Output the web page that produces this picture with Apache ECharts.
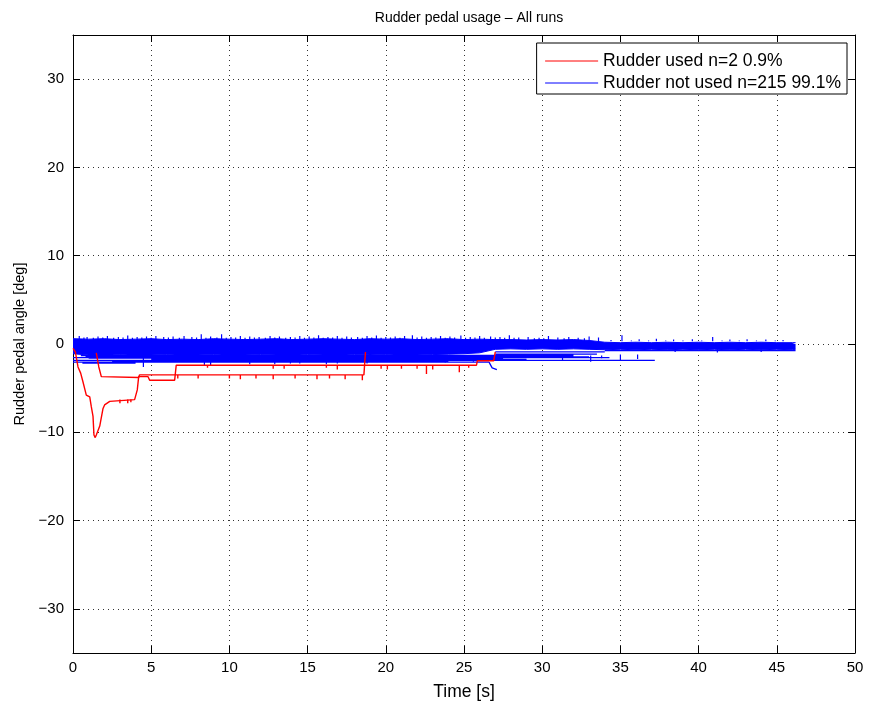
<!DOCTYPE html>
<html>
<head>
<meta charset="utf-8">
<script src="https://cdn.jsdelivr.net/npm/echarts@6/dist/echarts.min.js"></script>
<style>
  html, body { margin: 0; padding: 0; background: #fff; }
  #chart { width: 869px; height: 702px; }
</style>
</head>
<body>
<div id="chart"></div>
<script>
const redName = "Rudder used n=2 0.9%";
const blueName = "Rudder not used n=215 99.1%";

// x ticks (time, s) and y ticks (deg)
const xTicks = [0, 5, 10, 15, 20, 25, 30, 35, 40, 45, 50];
const yTicks = [-30, -20, -10, 0, 10, 20, 30];

// red run 1: deep excursion at the start
const redRunA = [
  [0.0, -0.5], [0.15, -0.9], [0.32, -2.6], [0.49, -3.3], [0.64, -4.3], [0.85, -5.8],
  [1.07, -6.0], [1.17, -7.1], [1.28, -8.2], [1.34, -10.3], [1.42, -10.6], [1.49, -10.3],
  [1.6, -9.8], [1.71, -9.3], [1.92, -7.3], [2.02, -6.9], [2.35, -6.5], [2.45, -6.3],
  [3.94, -6.3], [4.11, -5.2], [4.2, -3.7], [4.8, -3.7], [4.9, -4.1], [6.5, -4.1],
  [6.6, -2.4], [25.8, -2.4], [25.85, -1.9], [26.9, -1.9], [27.0, -0.9]
];
// red run 2
const redRunB = [
  [1.49, -1.0], [1.65, -2.6], [1.81, -3.7], [1.9, -3.8], [4.2, -3.8], [4.25, -3.5],
  [18.6, -3.5], [18.7, -0.9]
];
// red short drops: [time, from, to]
const redSpikes = [
  [3.0, -6.3, -6.7], [3.5, -6.3, -6.7], [3.7, -6.3, -6.6], [6.7, -3.5, -3.9], [8.0, -3.5, -3.9],
  [8.6, -2.4, -2.7], [10.0, -3.5, -3.9], [10.7, -3.5, -4.0], [11.7, -3.5, -3.9],
  [12.8, -3.5, -4.0], [12.8, -2.4, -2.8], [13.5, -2.4, -2.8], [14.2, -3.5, -3.9],
  [15.6, -3.5, -4.0], [16.2, -2.4, -2.7], [16.4, -3.5, -3.9], [16.9, -2.4, -2.9],
  [17.4, -3.5, -4.0], [18.5, -3.5, -4.1], [19.7, -2.4, -2.8], [20.1, -2.4, -2.9],
  [21.0, -2.4, -2.8], [22.0, -2.4, -2.8], [22.6, -2.4, -3.4], [23.0, -2.4, -2.9],
  [24.7, -2.4, -3.2], [25.3, -2.4, -2.7]
];

// blue band envelope (many overlapping runs)
const bandTime = [
  0, 1, 2, 3, 4, 5, 6, 7, 8, 9, 10, 11, 12, 13, 14, 15, 16, 17, 18, 19, 20, 21, 22, 23,
  24, 25, 26, 27, 28, 29, 30, 31, 32, 33, 34, 35, 36, 37, 38, 39, 40, 41, 42, 43, 44, 45, 46, 46.2
];
const bandUpper = [
  0.6, 0.55, 0.6, 0.5, 0.55, 0.6, 0.5, 0.55, 0.5, 0.6, 0.55, 0.5, 0.55, 0.6, 0.5, 0.55,
  0.6, 0.55, 0.5, 0.6, 0.55, 0.6, 0.5, 0.55, 0.6, 0.5, 0.55, 0.5, 0.5, 0.45, 0.5, 0.45,
  0.5, 0.4, 0.2, 0.15, 0.2, 0.15, 0.2, 0.15, 0.2, 0.15, 0.2, 0.15, 0.2, 0.15, 0.15, 0.15
];
const bandLower = [
  -1.1, -1.25, -1.3, -1.2, -1.3, -1.25, -1.2, -1.3, -1.25, -1.2, -1.3, -1.25, -1.2, -1.25,
  -1.3, -1.2, -1.25, -1.3, -1.2, -1.25, -1.2, -1.3, -1.25, -1.2, -1.15, -1.1, -1.0,
  -0.6, -0.55, -0.6, -0.55, -0.6, -0.55, -0.6,
  -0.65, -0.6, -0.65, -0.6, -0.65, -0.6, -0.65, -0.6, -0.65, -0.6, -0.65, -0.6, -0.65, -0.6
];
// blue upward peaks: [time, peak]
const blueUpPeaks = [
  [0.4, 0.9], [0.7, 0.75], [0.9, 0.8], [1.3, 0.7], [1.6, 0.85], [1.9, 0.75], [2.2, 0.9],
  [2.6, 0.7], [2.9, 0.8], [3.2, 0.75], [3.5, 0.95], [3.8, 0.7], [4.1, 0.8], [4.4, 0.75],
  [4.7, 0.85], [5.0, 0.7], [5.3, 0.9], [5.8, 0.8], [6.1, 0.75], [6.4, 0.85], [6.8, 0.7],
  [7.1, 0.9], [7.6, 0.8], [7.9, 0.75], [8.2, 1.1], [8.5, 0.7], [8.8, 0.85], [9.2, 0.75],
  [9.5, 1.1], [9.8, 0.7], [10.1, 0.8], [10.4, 0.75], [10.7, 0.9], [11.0, 0.7], [11.3, 0.85],
  [11.6, 0.75], [11.9, 0.8], [12.3, 0.7], [12.6, 0.9], [12.9, 0.75], [13.2, 0.85], [13.6, 0.7],
  [13.9, 0.8], [14.2, 0.75], [14.5, 0.9], [14.8, 0.7], [15.1, 0.85], [15.4, 0.75], [15.7, 1.0],
  [16.0, 0.7], [16.3, 0.8], [16.6, 0.75], [16.9, 0.9], [17.2, 0.7], [17.5, 0.85], [17.8, 0.75],
  [18.2, 0.8], [18.5, 0.7], [18.8, 0.9], [19.1, 0.75], [19.4, 0.95], [19.7, 0.7], [20.0, 0.8],
  [20.3, 0.75], [20.6, 0.85], [20.9, 0.7], [21.2, 0.9], [21.7, 1.0], [22.0, 0.75], [22.3, 0.85],
  [22.6, 0.7], [22.9, 0.8], [23.2, 0.75], [23.5, 0.9], [23.8, 0.7], [24.1, 0.85], [24.4, 0.75],
  [24.8, 0.95], [25.1, 0.7], [25.4, 0.8], [25.7, 0.75], [26.0, 0.9], [26.3, 0.7], [26.7, 0.85],
  [27.0, 0.75], [27.3, 0.8], [27.6, 0.7], [27.9, 1.0], [28.2, 0.7], [28.5, 0.75], [29.1, 0.8],
  [29.5, 0.65], [29.8, 0.7], [30.1, 0.65], [30.4, 0.9], [31.0, 0.75], [31.4, 0.65], [31.7, 0.8],
  [32.3, 0.7], [32.7, 0.65], [33.0, 0.85], [33.6, 0.75], [34.4, 0.45], [35.1, 1.0], [35.7, 0.4],
  [36.2, 0.55], [36.8, 0.4], [37.3, 0.6], [37.9, 0.4], [38.4, 0.5], [39.0, 0.4], [39.6, 0.55],
  [40.2, 0.4], [40.9, 0.8], [41.5, 0.4], [42.0, 0.5], [42.6, 0.4], [43.1, 0.55], [43.7, 0.4],
  [44.3, 0.5], [44.9, 0.4], [45.4, 0.45]
];
// blue runs settling below the band: [start, end, level]
const blueOffsets = [
  [0.0, 37.2, -1.85], [0.0, 34.3, -1.55], [0.8, 30.5, -1.4], [0.0, 26.6, -2.05],
  [0.5, 32.0, -1.3], [15.0, 33.0, -1.45], [5.0, 27.5, -1.7], [0.6, 4.0, -2.15],
  [2.5, 24.0, -1.95], [1.0, 20.0, -1.6], [8.0, 29.0, -1.75], [27.0, 34.0, -0.9],
  [27.0, 33.5, -1.15], [34.0, 46.2, -0.75]
];
// blue downward drops: [time, from, to]
const blueDownSpikes = [
  [4.5, -1.5, -2.6], [8.4, -1.5, -2.4], [8.8, -1.5, -2.4], [11.3, -1.5, -2.3],
  [12.9, -1.5, -2.3], [13.9, -1.5, -2.2], [14.5, -1.5, -2.2], [16.2, -1.5, -2.3],
  [16.9, -1.5, -2.2], [18.8, -1.5, -2.2], [23.8, -1.5, -2.1], [25.6, -1.5, -2.0],
  [31.3, -1.3, -1.9], [33.1, -1.3, -2.0], [33.8, -1.3, -1.6], [35.0, -1.2, -1.9],
  [36.1, -1.2, -1.7], [38.5, -0.6, -0.9], [41.2, -0.6, -0.95], [44.0, -0.6, -0.9]
];
// blue run that drifts down near 27 s
const blueDrift = [[26.6, -2.05], [26.7, -2.2], [26.8, -2.7], [26.9, -2.9], [27.1, -2.9]];

function verticalTicks(list) {
  const d = [];
  list.forEach(([t, a, b]) => { d.push([t, a], [t, b], [t, "-"]); });
  return d;
}
function peaks(list, base) {
  const d = [];
  list.forEach(([t, p]) => { d.push([t, base], [t, p], [t, "-"]); });
  return d;
}
function segments(list) {
  const d = [];
  list.forEach(([a, b, v]) => { d.push([a, v], [b, v], [b, "-"]); });
  return d;
}

const font = "Liberation Sans";
const chart = echarts.init(document.getElementById("chart"));

function line(name, data, color, width, extra) {
  return Object.assign({
    name, type: "line", data, symbol: "none", showSymbol: false, silent: true,
    connectNulls: false, animation: false,
    lineStyle: { color, width }, itemStyle: { color },
  }, extra || {});
}

const blue = "#0000ff";
const red = "#ff0000";

const series = [
  line(redName, redRunA, red, 1.4, { z: 5 }),
  line(redName, redRunB, red, 1.4, { z: 5 }),
  line(redName, verticalTicks(redSpikes), red, 1.4, { z: 5 }),
  line(blueName, segments(blueOffsets), blue, 1.3),
  line(blueName, bandTime.map((t, i) => [t, bandUpper[i]]), blue, 1, { areaStyle: { color: blue, opacity: 1 } }),
  line(blueName, bandTime.map((t, i) => [t, bandLower[i]]), blue, 1, { areaStyle: { color: blue, opacity: 1 } }),
  line(blueName, peaks(blueUpPeaks, 0.3), blue, 1.2),
  line(blueName, verticalTicks(blueDownSpikes), blue, 1.2),
  line(blueName, blueDrift, blue, 1.3),
];

const gridLine = { show: true, lineStyle: { color: "#333", type: [1, 4], width: 1 } };
const axisBase = {
  axisLine: { show: true, onZero: false, lineStyle: { color: "#000", width: 1 } },
  axisTick: { show: true, inside: true, length: 7, lineStyle: { color: "#000" } },
};
const labelStyle = { color: "#000", fontSize: 15, fontFamily: font };

chart.setOption({
  animation: false,
  textStyle: { fontFamily: font },
  title: {
    text: "Rudder pedal usage \u2013 All runs",
    left: 464, top: 6, textAlign: "center",
    textStyle: { fontFamily: font, fontSize: 14, fontWeight: "normal", color: "#000" },
  },
  legend: {
    data: [redName, blueName],
    orient: "vertical", right: 22, top: 43,
    backgroundColor: "#fff", borderColor: "#000", borderWidth: 1, borderRadius: 0,
    padding: [9, 6, 2, 8], itemGap: 4, itemWidth: 53, itemHeight: 14,
    itemStyle: { opacity: 0 },
    lineStyle: { width: 1 },
    textStyle: { fontFamily: font, fontSize: 17.5, color: "#000" },
    selectedMode: false,
  },
  grid: { left: 73, right: 14, top: 35, bottom: 49, outerBoundsMode: "none", containLabel: false },
  xAxis: [
    Object.assign({
      type: "value", min: xTicks[0], max: xTicks[xTicks.length - 1], interval: 5,
      name: "Time [s]", nameLocation: "middle", nameGap: 30,
      nameTextStyle: { fontFamily: font, fontSize: 17.5, color: "#000" },
      axisLabel: Object.assign({ margin: 7 }, labelStyle),
      splitLine: gridLine,
    }, axisBase),
    Object.assign({
      type: "value", position: "top", min: xTicks[0], max: xTicks[xTicks.length - 1], interval: 5,
      axisLabel: { show: false }, splitLine: { show: false },
    }, axisBase),
  ],
  yAxis: [
    Object.assign({
      type: "value", min: -35, max: 35, splitNumber: 7,
      name: "Rudder pedal angle [deg]", nameLocation: "middle", nameGap: 45,
      nameTextStyle: { fontFamily: font, fontSize: 14.5, color: "#000" },
      axisLabel: Object.assign({
        margin: 9, showMinLabel: false, showMaxLabel: false,
        formatter: v => (yTicks.includes(v) ? String(v).replace("-", "\u2212") : ""),
      }, labelStyle),
      splitLine: gridLine,
    }, axisBase),
    Object.assign({
      type: "value", position: "right", min: -35, max: 35, splitNumber: 7,
      axisLabel: { show: false }, splitLine: { show: false },
    }, axisBase),
  ],
  series,
});
</script>
</body>
</html>
